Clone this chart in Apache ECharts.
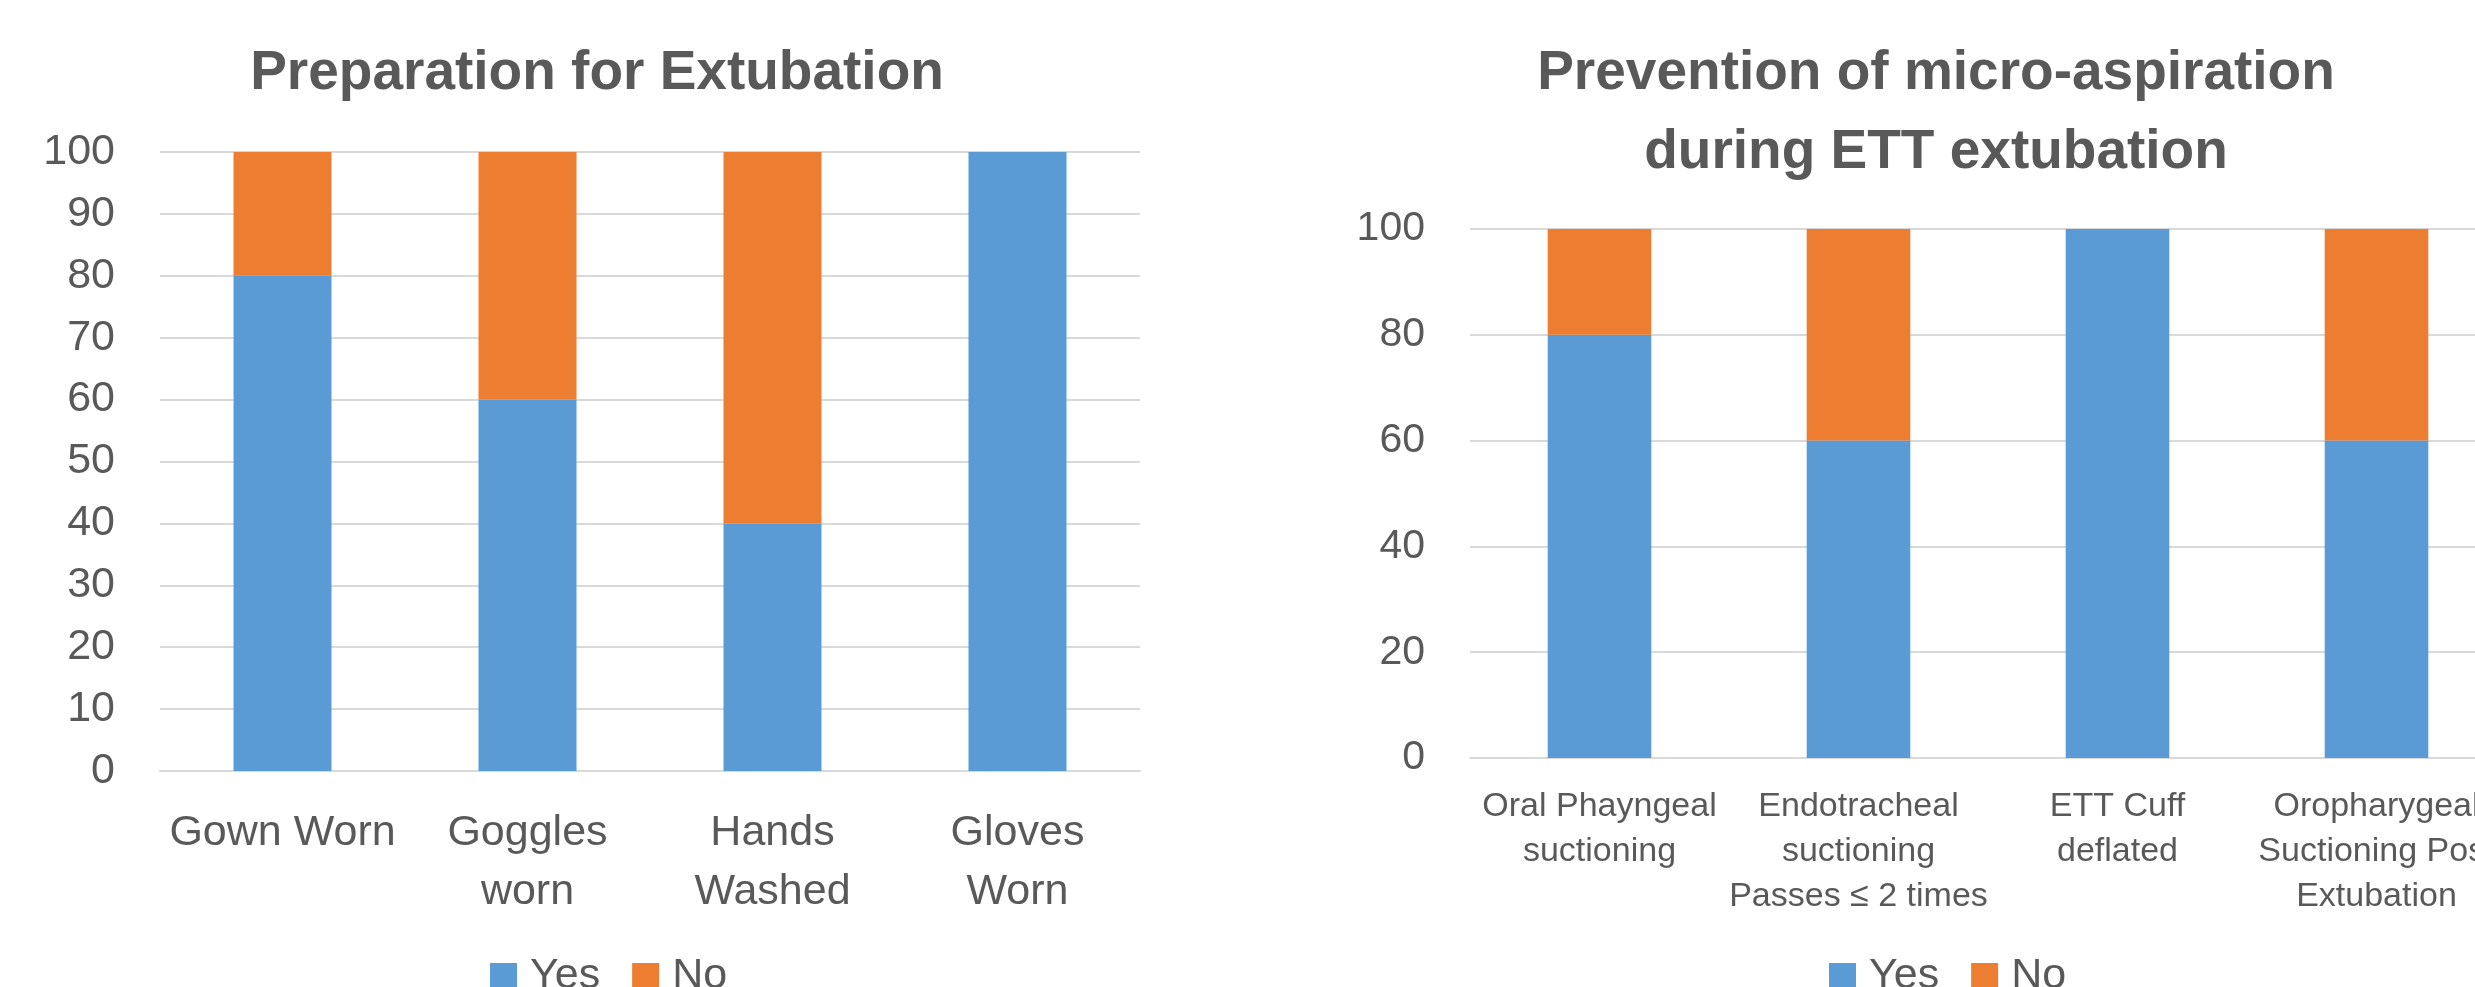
<!DOCTYPE html>
<html>
<head>
<meta charset="utf-8">
<title>Extubation practice audit</title>
<script src="https://cdn.jsdelivr.net/npm/echarts@6/dist/echarts.min.js"></script>
<style>
  html, body { margin: 0; padding: 0; background: #ffffff; overflow: hidden; }
  /* the right-hand panel runs past the window edge, so the canvas is wider than the view */
  #chart { width: 2620px; height: 987px; }
</style>
</head>
<body>
<div id="chart"></div>
<script>
// Preparation for extubation (percent of observations)
const prepCategories = ['Gown Worn', 'Goggles\nworn', 'Hands\nWashed', 'Gloves\nWorn'];
const prepYes = [80, 60, 40, 100];
const prepNo = [20, 40, 60, 0];
const prepTicks = { min: 0, max: 100, interval: 10 };

// Prevention of micro-aspiration during ETT extubation (percent)
const aspCategories = [
  'Oral Phayngeal\nsuctioning',
  'Endotracheal\nsuctioning\nPasses \u2264 2 times',
  'ETT Cuff\ndeflated',
  'Oropharygeal\nSuctioning Post\nExtubation'
];
const aspYes = [80, 60, 100, 60];
const aspNo = [20, 40, 0, 40];
const aspTicks = { min: 0, max: 100, interval: 20 };

const seriesNames = ['Yes', 'No'];
const FONT = 'Liberation Sans';
const TEXT = '#595959';
const GRID_LINE = '#D9D9D9';
const BLUE = '#5B9BD5';
const ORANGE = '#ED7D31';

const chart = echarts.init(document.getElementById('chart'), null, { renderer: 'canvas' });

function valueAxis(gridIndex, ticks, fontSize) {
  return {
    type: 'value', gridIndex,
    min: ticks.min, max: ticks.max, interval: ticks.interval,
    axisLine: { show: false }, axisTick: { show: false },
    splitLine: { lineStyle: { color: GRID_LINE, width: 2 } },
    axisLabel: { color: TEXT, fontFamily: FONT, fontSize, margin: 45 }
  };
}

function categoryAxis(gridIndex, data, fontSize, lineHeight, margin) {
  return {
    type: 'category', gridIndex, data,
    axisLine: { lineStyle: { color: GRID_LINE, width: 2 } },
    axisTick: { show: false },
    axisLabel: {
      interval: 0, color: TEXT, fontFamily: FONT,
      fontSize, lineHeight, margin, align: 'center'
    }
  };
}

function barSeries(name, data, axisIndex, stack, color) {
  return {
    name, type: 'bar', stack, data,
    xAxisIndex: axisIndex, yAxisIndex: axisIndex,
    barWidth: '40%',
    itemStyle: { color },
    emphasis: { disabled: true }
  };
}

const legendBase = {
  data: seriesNames,
  top: 955, padding: 0,
  icon: 'rect', itemWidth: 27, itemHeight: 27, itemGap: 32,
  textStyle: { color: TEXT, fontFamily: FONT, fontSize: 43, lineHeight: 27, padding: [0, 0, 0, 8] }
};

chart.setOption({
  animation: false,
  backgroundColor: '#ffffff',
  color: [BLUE, ORANGE],
  title: [
    {
      text: 'Preparation for Extubation',
      left: 597, top: 34, padding: 0, textAlign: 'center',
      textStyle: { color: TEXT, fontFamily: FONT, fontWeight: 'bold', fontSize: 55, lineHeight: 79 }
    },
    {
      text: 'Prevention of micro-aspiration\nduring ETT extubation',
      left: 1936, top: 34, padding: 0, textAlign: 'center',
      textStyle: { color: TEXT, fontFamily: FONT, fontWeight: 'bold', fontSize: 55, lineHeight: 79 }
    }
  ],
  legend: [
    Object.assign({}, legendBase, { left: 490 }),
    Object.assign({}, legendBase, { left: 1829 })
  ],
  grid: [
    { left: 160, top: 152, width: 980, height: 619 },
    { left: 1470, top: 229, width: 1036, height: 529 }
  ],
  xAxis: [
    categoryAxis(0, prepCategories, 43, 59, 33),
    categoryAxis(1, aspCategories, 34, 45, 26)
  ],
  yAxis: [
    valueAxis(0, prepTicks, 43),
    valueAxis(1, aspTicks, 41)
  ],
  series: [
    barSeries(seriesNames[0], prepYes, 0, 'prep', BLUE),
    barSeries(seriesNames[1], prepNo, 0, 'prep', ORANGE),
    barSeries(seriesNames[0], aspYes, 1, 'asp', BLUE),
    barSeries(seriesNames[1], aspNo, 1, 'asp', ORANGE)
  ]
});
</script>
</body>
</html>
